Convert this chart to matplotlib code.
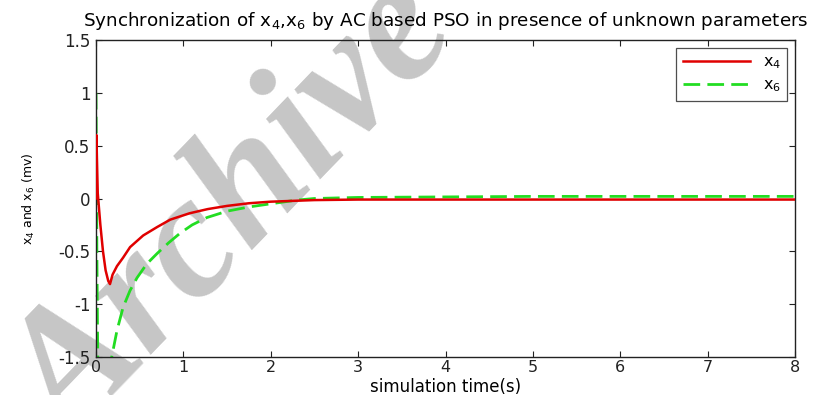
import matplotlib
matplotlib.use("Agg")
import matplotlib.pyplot as plt

# ---- data ----
t_x4 = [0.0, 0.005, 0.01, 0.02, 0.03, 0.05, 0.08, 0.11, 0.14, 0.16, 0.19, 0.24,
        0.31, 0.39, 0.54, 0.7, 0.85, 1.07, 1.28, 1.5, 1.75, 2.0, 2.5, 3.0, 4.0,
        5.0, 6.0, 7.0, 8.0]
x4 = [0.0, 0.6, 0.4, 0.05, -0.05, -0.25, -0.5, -0.68, -0.78, -0.81, -0.72, -0.64,
      -0.56, -0.46, -0.35, -0.27, -0.2, -0.14, -0.1, -0.07, -0.045, -0.03, -0.015,
      -0.01, -0.01, -0.01, -0.01, -0.01, -0.01]

t_x6 = [0.0, 0.005, 0.01, 0.02, 0.05, 0.1, 0.15, 0.18, 0.24, 0.31, 0.39, 0.47,
        0.58, 0.7, 0.83, 0.96, 1.1, 1.27, 1.5, 1.75, 2.0, 2.3, 2.5, 3.0, 4.0,
        5.0, 6.0, 7.0, 8.0]
x6 = [1.0, 0.3, -0.5, -1.5, -2.0, -2.0, -1.75, -1.5, -1.25, -1.03, -0.87, -0.75,
      -0.62, -0.52, -0.42, -0.33, -0.25, -0.18, -0.12, -0.08, -0.05, -0.015, 0.0,
      0.01, 0.015, 0.02, 0.02, 0.02, 0.02]

x_ticks = [0, 1, 2, 3, 4, 5, 6, 7, 8]
y_ticks = [-1.5, -1, -0.5, 0, 0.5, 1, 1.5]
y_tick_labels = ["-1.5", "-1", "-0.5", "0", "0.5", "1", "1.5"]

plt.rcParams['font.family'] = ['DejaVu Sans']

fig = plt.figure(figsize=(8.15, 3.95), dpi=100)
ax = fig.add_axes([96/815, 38/395, 699/815, 317/395])
ax.set_facecolor('none')

# watermark behind everything
fig.text(236/815, 1 - 215/395, "Archive", fontsize=126, fontweight='bold', style='italic',
         family='Liberation Serif', color='#c6c6c6', rotation=46,
         ha='center', va='center', zorder=-10)

ax.plot(t_x4, x4, color='#e00000', lw=1.8, label='x$_4$', zorder=3)
ax.plot(t_x6, x6, color='#22dd22', lw=2.0, dashes=(6.0, 2.6), label='x$_6$', zorder=2)

ax.set_xlim(0, 8)
ax.set_ylim(-1.5, 1.5)
ax.set_xticks(x_ticks)
ax.set_yticks(y_ticks)
ax.set_yticklabels(y_tick_labels)
ax.tick_params(direction='in', top=True, right=True, length=4, width=0.8,
               labelsize=12, colors='#222222', pad=4)
ax.tick_params(axis='x', pad=2.5, labelsize=11.5)
for s in ax.spines.values():
    s.set_linewidth(1.0)
    s.set_color('#222222')

ax.set_title("Synchronization of x$_4$,x$_6$ by AC based PSO in presence of unknown parameters",
             fontsize=13.2, pad=10)
ax.set_xlabel("simulation time(s)", fontsize=12)
ax.xaxis.set_label_coords(0.5, -21.5/317)
ax.set_ylabel("x$_4$ and x$_6$ (mv)", fontsize=9, labelpad=15)

leg = ax.legend(loc='upper right', fontsize=11.5, frameon=True, fancybox=False,
                edgecolor='#222222', handlelength=4.2, borderaxespad=0.5,
                labelspacing=0.4)
leg.get_frame().set_linewidth(0.9)

fig.savefig("out.png", dpi=100)
